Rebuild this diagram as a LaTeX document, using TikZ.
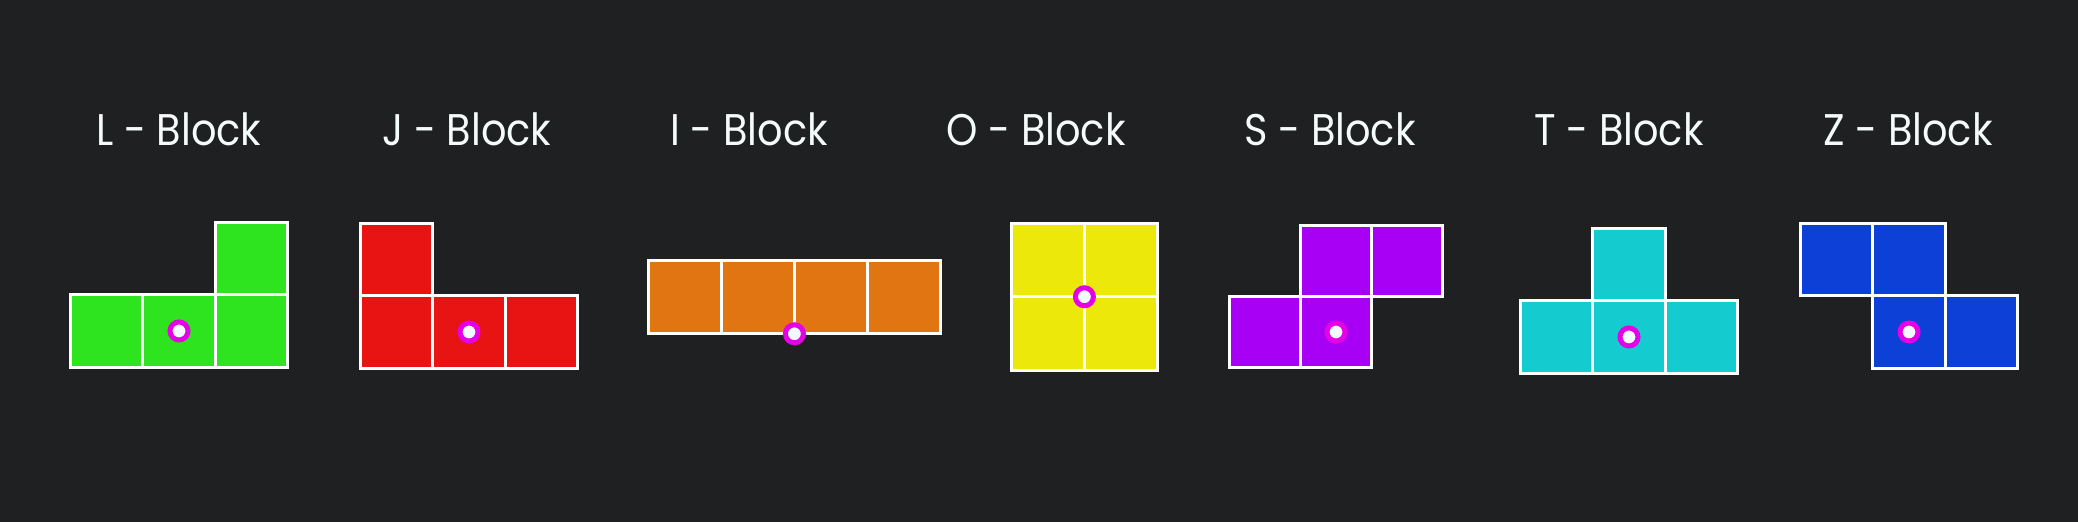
\documentclass[tikz,border=0pt]{standalone}
\usepackage{fontspec}
\setmainfont{Poppins}
\newfontfamily\blockfont[FakeStretch=0.9]{Poppins}
\usepackage{xcolor}
\usetikzlibrary{positioning}

\definecolor{bgdark}{RGB}{31,32,33}
\definecolor{lgreen}{RGB}{45,228,30}
\definecolor{jred}{RGB}{232,20,20}
\definecolor{iorange}{RGB}{224,117,18}
\definecolor{oyellow}{RGB}{236,232,10}
\definecolor{spurple}{RGB}{167,0,245}
\definecolor{tcyan}{RGB}{20,204,208}
\definecolor{zblue}{RGB}{12,64,214}
\definecolor{pivring}{RGB}{230,0,230}
\definecolor{pivfill}{RGB}{240,250,255}
\definecolor{labeltxt}{RGB}{245,250,250}

\begin{document}
\begin{tikzpicture}[
    x=0.01cm, y=-0.01cm,
    node distance=0pt,
    cell/.style={
        draw=white,
        line width=0.03cm,
        minimum width=0.725cm,
        minimum height=0.72cm,
        inner sep=0pt,
        outer sep=0pt
    },
    smallcell/.style={cell, minimum width=0.71cm, minimum height=0.71cm},
    bigcell/.style={cell, minimum width=0.728cm, minimum height=0.735cm},
    pivot/.style={
        circle,
        draw=pivring,
        fill=pivfill,
        line width=0.05cm,
        minimum size=0.18cm,
        inner sep=0pt
    },
    blocklabel/.style={
        anchor=base,
        text=labeltxt,
        font=\blockfont\fontsize{12.6}{15}\selectfont,
        inner sep=0pt
    }
]
\fill[bgdark] (0,0) rectangle (2078,522);
\useasboundingbox (0,0) rectangle (2078,522);

\node[blocklabel] (lname) at (179,146) {L - Block};
\node[blocklabel] (jname) at (467,146) {J - Block};
\node[blocklabel] (iname) at (749,146) {I - Block};
\node[blocklabel] (oname) at (1036,146) {O - Block};
\node[blocklabel] (sname) at (1330,146) {S - Block};
\node[blocklabel] (tname) at (1619,146) {T - Block};
\node[blocklabel] (zname) at (1908,146) {Z - Block};

\node[cell, fill=lgreen] (l2) at (179,331) {};
\node[cell, fill=lgreen, left=of l2] (l1) {};
\node[cell, fill=lgreen, right=of l2] (l3) {};
\node[cell, fill=lgreen, above=of l3] (l4) {};
\node[pivot] (lpiv) at (l2.center) {};

\node[cell, fill=jred] (j2) at (469,332) {};
\node[cell, fill=jred, left=of j2] (j1) {};
\node[cell, fill=jred, right=of j2] (j3) {};
\node[cell, fill=jred, above=of j1] (j4) {};
\node[pivot] (jpiv) at (j2.center) {};

\node[bigcell, fill=iorange] (i2) at (758,297) {};
\node[bigcell, fill=iorange, left=of i2] (i1) {};
\node[bigcell, fill=iorange, right=of i2] (i3) {};
\node[bigcell, fill=iorange, right=of i3] (i4) {};
\node[pivot] (ipiv) at (i2.south east) {};

\node[bigcell, fill=oyellow] (o1) at (1048,260) {};
\node[bigcell, fill=oyellow, right=of o1] (o2) {};
\node[bigcell, fill=oyellow, below=of o1] (o3) {};
\node[bigcell, fill=oyellow, below=of o2] (o4) {};
\node[pivot] (opiv) at (o1.south east) {};

\node[smallcell, fill=spurple] (s2) at (1336,332) {};
\node[smallcell, fill=spurple, left=of s2] (s1) {};
\node[smallcell, fill=spurple, above=of s2] (s3) {};
\node[smallcell, fill=spurple, right=of s3] (s4) {};
\node[pivot] (spiv) at (s2.center) {};

\node[cell, fill=tcyan] (t2) at (1629,337) {};
\node[cell, fill=tcyan, left=of t2] (t1) {};
\node[cell, fill=tcyan, right=of t2] (t3) {};
\node[cell, fill=tcyan, above=of t2] (t4) {};
\node[pivot] (tpiv) at (t2.center) {};

\node[cell, fill=zblue] (z3) at (1909,332) {};
\node[cell, fill=zblue, above=of z3] (z2) {};
\node[cell, fill=zblue, left=of z2] (z1) {};
\node[cell, fill=zblue, right=of z3] (z4) {};
\node[pivot] (zpiv) at (z3.center) {};
\end{tikzpicture}
\end{document}
